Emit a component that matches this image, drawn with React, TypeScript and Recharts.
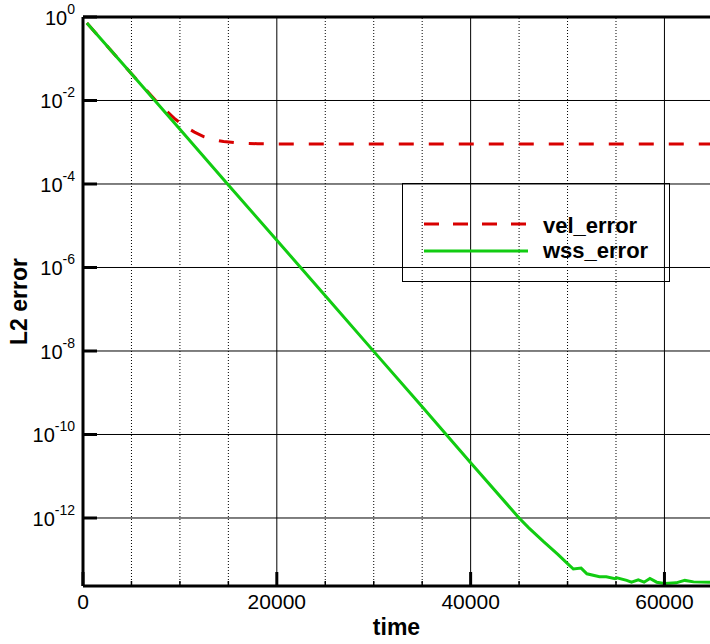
import React from "react";
import {
  LineChart,
  Line,
  XAxis,
  YAxis,
  CartesianGrid,
  ReferenceLine,
  Legend,
} from "recharts";

const FONT = "'Liberation Sans', Arial, sans-serif";
const RED = "#d80000";
const GREEN = "#11cc11";

// wss_error: straight decay on the log scale, then a noisy floor
const WSS_TIME = [
  400, 5000, 10000, 15000, 20000, 25000, 30000, 35000, 40000, 45000, 46000,
  47500, 49000, 50000, 50600, 51400, 52000, 53300, 54000, 54900, 55100, 56100,
  56600, 57300, 57900, 58500, 59200, 60000, 61200, 62100, 63000, 64700,
];
const WSS_ERR = [
  0.72, 0.0435, 2.04e-3, 9.5e-5, 4.5e-6, 2.1e-7, 9.8e-9, 4.6e-10, 2.1e-11,
  1e-12, 5.8e-13, 2.75e-13, 1.35e-13, 8.1e-14, 6.0e-14, 6.3e-14, 4.6e-14,
  3.9e-14, 3.9e-14, 3.5e-14, 3.7e-14, 3.2e-14, 2.9e-14, 3.3e-14, 2.9e-14,
  3.55e-14, 2.9e-14, 2.7e-14, 2.8e-14, 3.2e-14, 2.95e-14, 2.9e-14,
];

// vel_error: follows wss_error, then levels off near 1e-3
const VEL_TIME = [
  400, 5000, 7500, 8500, 9500, 10500, 11500, 12500, 13500, 14500, 16000, 18000,
  20000, 30000, 40000, 50000, 60000, 64700,
];
const VEL_ERR = [
  0.72, 0.0435, 1.0e-2, 6.0e-3, 3.6e-3, 2.4e-3, 1.75e-3, 1.35e-3, 1.15e-3,
  1.04e-3, 9.6e-4, 9.2e-4, 9.1e-4, 9.1e-4, 9.1e-4, 9.1e-4, 9.1e-4, 9.1e-4,
];

const X_TICKS = [
  0, 5000, 10000, 15000, 20000, 25000, 30000, 35000, 40000, 45000, 50000,
  55000, 60000,
];
const X_MAJOR = [0, 20000, 40000, 60000];
const X_GRID_SOLID = [20000, 40000, 60000];
const X_GRID_DOTTED = [5000, 10000, 15000, 25000, 30000, 35000, 45000, 50000, 55000];
const Y_TICKS = [1, 1e-2, 1e-4, 1e-6, 1e-8, 1e-10, 1e-12];

const wssData = WSS_TIME.map((t, i) => ({ t, v: WSS_ERR[i] }));
const velData = VEL_TIME.map((t, i) => ({ t, v: VEL_ERR[i] }));

function XTick(props: any) {
  const { x, y, payload } = props;
  const major = X_MAJOR.includes(payload.value);
  return (
    <g>
      <line
        x1={x}
        x2={x}
        y1={y}
        y2={y - (major ? 14 : 5)}
        stroke="#000"
        strokeWidth={major ? 3 : 1.5}
      />
      {major && (
        <text
          x={x}
          y={y + 23}
          textAnchor="middle"
          fontFamily={FONT}
          fontSize={21}
          fill="#000"
        >
          {payload.value}
        </text>
      )}
    </g>
  );
}

function YTick(props: any) {
  const { x, y, payload } = props;
  const exp = Math.round(Math.log10(payload.value));
  return (
    <g>
      <line x1={x} x2={x + 14} y1={y} y2={y} stroke="#000" strokeWidth={3} />
      <text
        x={x - 8}
        y={y + 8}
        textAnchor="end"
        fontFamily={FONT}
        fontSize={20}
        fill="#000"
      >
        10
        <tspan dy={-11} fontSize={14}>
          {exp}
        </tspan>
      </text>
    </g>
  );
}

function LegendBox() {
  return (
    <svg width={268} height={99} style={{ display: "block" }}>
      <rect x={0.5} y={0.5} width={267} height={98} fill="none" stroke="#000" />
      <line
        x1={22}
        x2={126}
        y1={41}
        y2={41}
        stroke={RED}
        strokeWidth={3}
        strokeDasharray="15 14"
      />
      <text x={141} y={50} fontFamily={FONT} fontWeight="bold" fontSize={22}>
        vel_error
      </text>
      <line x1={22} x2={126} y1={68} y2={68} stroke={GREEN} strokeWidth={3} />
      <text x={141} y={75} fontFamily={FONT} fontWeight="bold" fontSize={22}>
        wss_error
      </text>
    </svg>
  );
}

function YLabel(props: any) {
  const { viewBox } = props;
  const cy = viewBox.y + viewBox.height / 2;
  return (
    <text
      x={27}
      y={cy}
      transform={`rotate(-90 27 ${cy})`}
      textAnchor="middle"
      fontFamily={FONT}
      fontWeight="bold"
      fontSize={23}
      fill="#000"
    >
      L2 error
    </text>
  );
}

export default function App() {
  return (
    <div style={{ position: "absolute", left: 0, top: 0, background: "#fff" }}>
      <LineChart
        width={710}
        height={644}
        margin={{ top: 17, right: 0, bottom: 0, left: 0 }}
      >
        <CartesianGrid vertical={false} stroke="#000" strokeWidth={1} />
        {X_GRID_DOTTED.map((v) => (
          <ReferenceLine
            key={v}
            x={v}
            stroke="#000"
            strokeWidth={1}
            strokeDasharray="1 2"
          />
        ))}
        {X_GRID_SOLID.map((v) => (
          <ReferenceLine key={v} x={v} stroke="#000" strokeWidth={1} />
        ))}
        <ReferenceLine y={1} stroke="#000" strokeWidth={3} />
        <XAxis
          type="number"
          dataKey="t"
          domain={[0, 64700]}
          allowDataOverflow
          ticks={X_TICKS}
          interval={0}
          tick={<XTick />}
          tickLine={false}
          tickSize={0}
          tickMargin={0}
          axisLine={{ stroke: "#000", strokeWidth: 3 }}
          height={58}
          label={{
            value: "time",
            position: "insideBottom",
            offset: 9,
            fontFamily: FONT,
            fontWeight: "bold",
            fontSize: 23,
            fill: "#000",
          }}
        />
        <YAxis
          type="number"
          scale="log"
          domain={[2.35e-14, 1]}
          allowDataOverflow
          ticks={Y_TICKS}
          interval={0}
          tick={<YTick />}
          tickLine={false}
          tickSize={0}
          tickMargin={0}
          axisLine={{ stroke: "#000", strokeWidth: 3 }}
          width={83}
          label={<YLabel />}
        />
        <Legend
          layout="vertical"
          align="center"
          verticalAlign="middle"
          content={() => <LegendBox />}
          wrapperStyle={{ left: 402, top: 183, width: 268, height: 99 }}
        />
        <Line
          data={velData}
          dataKey="v"
          name="vel_error"
          type="linear"
          stroke={RED}
          strokeWidth={3}
          strokeDasharray="15 15"
          dot={false}
          isAnimationActive={false}
        />
        <Line
          data={wssData}
          dataKey="v"
          name="wss_error"
          type="linear"
          stroke={GREEN}
          strokeWidth={3}
          dot={false}
          isAnimationActive={false}
        />
      </LineChart>
    </div>
  );
}
